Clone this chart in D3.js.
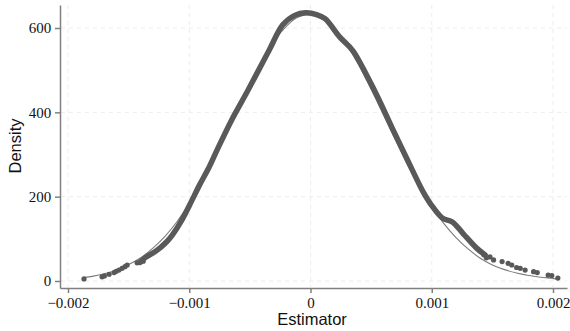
<!DOCTYPE html>
<html>
<head>
<meta charset="utf-8">
<script src="https://cdn.jsdelivr.net/npm/d3@7"></script>
<style>
  body { margin: 0; background: #fff; }
  svg { display: block; }
</style>
</head>
<body>
<svg width="570" height="331"></svg>
<script>
// kernel density, dense part (drawn as a thick line)
const kdeX = [-0.00141, -0.00136, -0.00127, -0.00119, -0.00114, -0.00106, -0.00098, -0.00092, -0.00084,
  -0.00077, -0.00065, -0.00052, -0.00034, -0.00023, -0.00013, -0.00004, 0.00005, 0.00012, 0.00024,
  0.00035, 0.00047, 0.00056, 0.00067, 0.00076, 0.00084, 0.00093, 0.00101, 0.00109, 0.00117, 0.00126,
  0.00137, 0.00144];
const kdeY = [44, 56, 72, 92, 109, 145, 190, 225, 268,
  311, 382, 450, 548, 607, 630, 636, 632, 622, 579,
  546, 484, 433, 365, 311, 263, 211, 175, 149, 140, 112,
  78, 62];

// kernel density, sparse tail points (drawn as markers)
const tailX = [-0.001868, -0.001719, -0.0017, -0.001661, -0.00162, -0.001603, -0.00158, -0.001554, -0.00153,
  -0.001512, -0.00143, -0.0014, -0.00138,
  0.00143, 0.00145, 0.00148, 0.00151, 0.00158, 0.00163, 0.00166, 0.0017, 0.00173, 0.00177, 0.00184,
  0.00187, 0.00196, 0.00199, 0.00204];
const tailY = [5, 10, 12, 16, 20, 23, 26, 30, 34,
  38, 43, 45, 47,
  62, 55, 57, 50, 46, 42, 38, 32, 30, 26, 22,
  20, 14, 13, 7];

// normal curve overlay
const normX = [-0.00187, -0.0018, -0.0017, -0.0016, -0.0015, -0.0014, -0.0013, -0.0012, -0.0011, -0.001,
  -0.0009, -0.0008, -0.0007, -0.0006, -0.0005, -0.0004, -0.0003, -0.0002, -0.0001, 0,
  0.0001, 0.0002, 0.0003, 0.0004, 0.0005, 0.0006, 0.0007, 0.0008, 0.0009, 0.001,
  0.0011, 0.0012, 0.0013, 0.0014, 0.0015, 0.0016, 0.0017, 0.0018, 0.0019, 0.002, 0.00203];
const normY = [8, 11, 17, 26, 39, 55, 78, 106, 141, 184,
  233, 288, 347, 408, 467, 522, 569, 604, 626, 632,
  622, 598, 560, 511, 455, 395, 335, 276, 223, 176,
  136, 103, 76, 54, 38, 27, 19, 13, 9, 6, 5];

const xTicks = [-0.002, -0.001, 0, 0.001, 0.002];
const xTickLabels = ["\u22120.002", "\u22120.001", "0", "0.001", "0.002"];
const yTicks = [0, 200, 400, 600];

const svg = d3.select("svg");

const x = d3.scaleLinear().domain([-0.002, 0.002]).range([68, 553]);
x.domain([x.invert(60), x.invert(567)]).range([60, 567]);
const y = d3.scaleLinear().domain([0, 600]).range([281, 28]);
y.domain([y.invert(288), y.invert(5)]).range([288, 5]);

// grid
const grid = svg.append("g").attr("stroke", "#ececec").attr("stroke-width", 1).attr("stroke-dasharray", "4,4");
grid.selectAll(".gy").data(yTicks).enter().append("line")
  .attr("x1", 61).attr("x2", 567).attr("y1", d => y(d)).attr("y2", d => y(d));
grid.selectAll(".gx").data(xTicks).enter().append("line")
  .attr("y1", 5).attr("y2", 287).attr("x1", d => x(d)).attr("x2", d => x(d));

// normal curve
const normal = normX.map((v, i) => [v, normY[i]]);
svg.append("path").datum(normal)
  .attr("fill", "none").attr("stroke", "#7c7c7c").attr("stroke-width", 1.1)
  .attr("d", d3.line().curve(d3.curveMonotoneX).x(d => x(d[0])).y(d => y(d[1])));

// kde thick line
const kde = kdeX.map((v, i) => [v, kdeY[i]]);
svg.append("path").datum(kde)
  .attr("fill", "none").attr("stroke", "#595959").attr("stroke-width", 5.5)
  .attr("stroke-linecap", "round").attr("stroke-linejoin", "round")
  .attr("d", d3.line().curve(d3.curveCatmullRom).x(d => x(d[0])).y(d => y(d[1])));

// tail markers
svg.selectAll(".dot").data(tailX.map((v, i) => [v, tailY[i]])).enter().append("circle")
  .attr("cx", d => x(d[0])).attr("cy", d => y(d[1])).attr("r", 2.6).attr("fill", "#595959");

// axes
const xAxis = svg.append("g").attr("transform", "translate(0,288)")
  .call(d3.axisBottom(x).tickValues(xTicks).tickFormat((d, i) => xTickLabels[i]).tickSize(5).tickSizeOuter(0));
const yAxis = svg.append("g").attr("transform", "translate(60,0)")
  .call(d3.axisLeft(y).tickValues(yTicks).tickSize(5).tickSizeOuter(0));

[xAxis, yAxis].forEach(a => {
  a.selectAll("path, line").attr("stroke", "#808080").attr("stroke-width", 1.5);
  a.selectAll("text").attr("fill", "#111").style("font-family", "'Liberation Serif', 'Times New Roman', serif").style("font-size", "15px");
});
xAxis.selectAll("text").attr("dy", "0.82em");
yAxis.selectAll("text").attr("dx", "-0.05em");

// axis titles
svg.append("text").attr("x", 312).attr("y", 325).attr("text-anchor", "middle")
  .style("font-family", "'Liberation Sans', Arial, sans-serif").style("font-size", "16.5px").attr("fill", "#111")
  .text("Estimator");
svg.append("text").attr("transform", "translate(21,146) rotate(-90)").attr("text-anchor", "middle")
  .style("font-family", "'Liberation Sans', Arial, sans-serif").style("font-size", "16.5px").attr("fill", "#111")
  .text("Density");
</script>
</body>
</html>
